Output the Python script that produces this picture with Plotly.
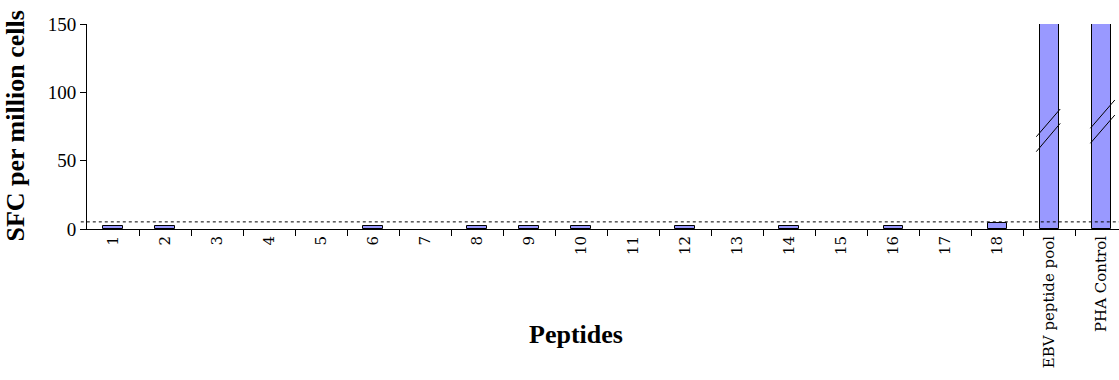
import plotly.graph_objects as go

categories = [str(i) for i in range(1, 19)] + ["EBV peptide pool", "PHA Control"]
sfc_values = [2.5, 2.5, 0, 0, 0, 2.5, 0, 2.5, 2.5, 2.5, 0, 2.5, 0, 2.5, 0, 2.5, 0, 4.5, 400, 400]
cutoff = 5.2
y_ticks = [0, 50, 100, 150]
# axis-break marks on the off-scale bars: (category index, x offset pair, two y pairs)
break_bars = [18, 19]
break_dx = [(-0.25, 0.21), (-0.21, 0.26)]
break_y = [[(67.5, 87.8), (56.6, 77.3)], [(73.7, 94.4), (62.7, 83.4)]]

fig = go.Figure()
fig.add_trace(go.Bar(
    x=list(range(len(categories))), y=sfc_values, width=0.375,
    marker=dict(color="#9999ff",
                line=dict(color="black", width=[1 if v > 0 else 0 for v in sfc_values])),
    showlegend=False, hoverinfo="skip",
))

shapes = [dict(type="line", xref="paper", yref="y", x0=-0.006, x1=1, y0=cutoff, y1=cutoff,
               line=dict(color="black", width=1, dash="3px,3px"))]
for idx, (dx0, dx1), pairs in zip(break_bars, break_dx, break_y):
    for (ya, yb) in pairs:
        shapes.append(dict(type="line", xref="x", yref="y", x0=idx + dx0, x1=idx + dx1,
                           y0=ya, y1=yb, line=dict(color="black", width=1)))

fig.update_layout(
    width=1119, height=380,
    margin=dict(l=87, r=0, t=24, b=151),
    plot_bgcolor="white", paper_bgcolor="white",
    shapes=shapes,
    bargap=0,
    annotations=[
        dict(text="<b>SFC per million cells</b>", xref="paper", yref="paper",
             x=-0.0697, y=0.5, xanchor="center", yanchor="middle", textangle=-90,
             showarrow=False, font=dict(family="Liberation Serif", size=26, color="black")),
        dict(text="<b>Peptides</b>", xref="paper", yref="paper",
             x=0.4735, y=-0.517, xanchor="center", yanchor="middle",
             showarrow=False, font=dict(family="Liberation Serif", size=26, color="black")),
    ],
)
fig.update_xaxes(
    type="linear", range=[-0.5, 19.34],
    tickmode="array", tickvals=list(range(len(categories))), ticktext=categories,
    tickangle=-90, ticks="", showgrid=False, zeroline=False,
    showline=True, linecolor="black", linewidth=1,
    tickfont=dict(family="DejaVu Serif", size=15, color="black"),
    minor=dict(tickmode="array", tickvals=[i + 0.5 for i in range(len(categories))],
               ticks="outside", ticklen=6, tickcolor="black", tickwidth=1, showgrid=False),
)
fig.update_yaxes(
    range=[0, 150], tickmode="array", tickvals=y_ticks,
    ticks="outside", ticklen=6, tickcolor="black", showgrid=False, zeroline=False,
    showline=True, linecolor="black", linewidth=1,
    tickfont=dict(family="Liberation Serif", size=19, color="black"),
)

fig.write_html("out.html")
